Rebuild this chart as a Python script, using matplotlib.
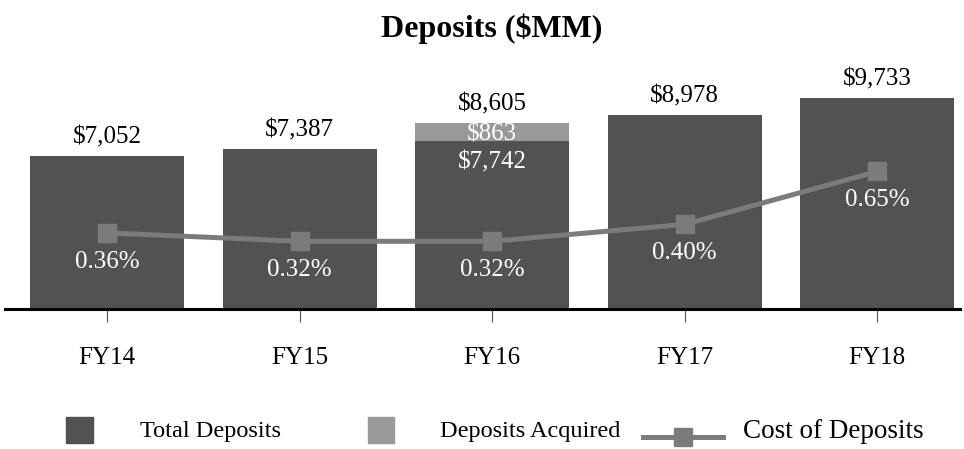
import matplotlib.pyplot as plt
from matplotlib.lines import Line2D
from matplotlib.patches import Rectangle

plt.rcParams["font.family"] = ["Liberation Serif", "DejaVu Serif"]

# Chart data
years = ["FY14", "FY15", "FY16", "FY17", "FY18"]
base_deposits = [7052, 7387, 7742, 8978, 9733]
acquired = [0, 0, 863, 0, 0]
cost_of_deposits = [0.36, 0.32, 0.32, 0.40, 0.65]

DARK = "#525252"
LIGHT = "#999999"
LINE = "#7b7b7b"
FS = 18

fig = plt.figure(figsize=(9.64, 4.49), dpi=100)
W, H = 964, 449

# axes placed so the baseline sits at y=309 px
ax = fig.add_axes([5 / W, 1 - 309 / H, 955 / W, 238 / H])
x = list(range(len(years)))

ax.bar(x, base_deposits, width=0.8, color=DARK, zorder=2)
ax.bar(x, acquired, width=0.8, bottom=base_deposits, color=LIGHT, zorder=2)
ax.set_xlim(-0.53, 4.43)
ax.set_ylim(0, 11000)

for s in ["top", "left", "right"]:
    ax.spines[s].set_visible(False)
ax.spines["bottom"].set_linewidth(2.2)
ax.spines["bottom"].set_color("black")
ax.set_yticks([])
ax.set_xticks(x)
ax.set_xticklabels(years, fontsize=FS)
ax.tick_params(axis="x", length=9.5, width=0.8, color="#555555", pad=18)

# value labels
for i, (b, a) in enumerate(zip(base_deposits, acquired)):
    total = b + a
    ax.annotate(f"${total:,}", (i, total), xytext=(0, 9), textcoords="offset points",
                ha="center", va="baseline", fontsize=FS, color="black")
    if a:
        ax.annotate(f"${a:,}", (i, b), xytext=(0, 1), textcoords="offset points",
                    ha="center", va="baseline", fontsize=FS, color="white")
        ax.annotate(f"${b:,}", (i, b), xytext=(0, -19.5), textcoords="offset points",
                    ha="center", va="baseline", fontsize=FS, color="white")

# cost of deposits on secondary axis
ax2 = ax.twinx()
ax2.set_ylim(0, 1.125)
ax2.axis("off")
ax2.plot(x, cost_of_deposits, color=LINE, linewidth=3.6, marker="s",
         markersize=13, zorder=3)
for i, v in enumerate(cost_of_deposits):
    ax2.annotate(f"{v:.2f}%", (i, v), xytext=(0, -25), textcoords="offset points",
                 ha="center", va="baseline", fontsize=FS, color="white")

fig.text(492 / W, 1 - 37 / H, "Deposits ($MM)", ha="center", va="baseline",
         fontsize=23, fontweight="bold")

# legend
ly = 1 - 431 / H
fig.patches.append(Rectangle((66 / W, 1 - 443 / H), 27 / W, 26 / H,
                             transform=fig.transFigure, color=DARK))
fig.text(140 / W, ly, "Total Deposits", ha="left", va="center", fontsize=17.5)
fig.patches.append(Rectangle((368 / W, 1 - 443 / H), 26 / W, 26 / H,
                             transform=fig.transFigure, color=LIGHT))
fig.text(440 / W, ly, "Deposits Acquired", ha="left", va="center", fontsize=17.5)
fig.lines.append(Line2D([643 / W, 723 / W], [1 - 437 / H] * 2, transform=fig.transFigure,
                        color=LINE, linewidth=3.6))
fig.lines.append(Line2D([683 / W], [1 - 437 / H], transform=fig.transFigure,
                        color=LINE, marker="s", markersize=13.5, linestyle="none"))
fig.text(743 / W, ly, "Cost of Deposits", ha="left", va="center", fontsize=19.5)

fig.savefig("out.png", dpi=100)
